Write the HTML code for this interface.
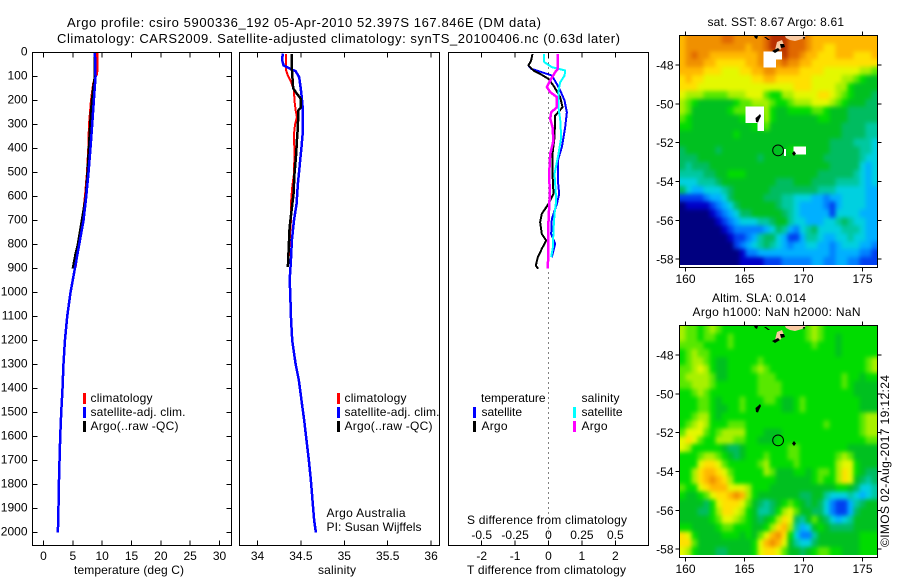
<!DOCTYPE html>
<html lang="en">
<head>
<meta charset="utf-8">
<title>Argo profile chart</title>
<style>
html,body{margin:0;padding:0;background:#fff;}
svg{display:block;font-family:"Liberation Sans",sans-serif;font-size:12px;fill:#000;}
</style>
</head>
<body>
<svg id="chart" xmlns="http://www.w3.org/2000/svg" width="900" height="580" viewBox="0 0 900 580">
  <text x="67" y="27" font-size="13" textLength="474">Argo profile: csiro 5900336_192 05-Apr-2010 52.397S 167.846E (DM data)</text>
  <text x="57" y="43" font-size="13" textLength="563">Climatology: CARS2009. Satellite-adjusted climatology: synTS_20100406.nc (0.63d later)</text>

  <g id="panel-temp"></g>
  <g id="panel-sal"></g>
  <g id="panel-diff"></g>
  <g id="map-sst"></g>
  <g id="map-sla"></g>

  <text x="74" y="574" textLength="110">temperature (deg C)</text>
  <text x="318" y="574" textLength="38">salinity</text>
  <text x="467" y="574" textLength="159">T difference from climatology</text>
  <text x="467" y="524" textLength="160">S difference from climatology</text>

  <g>
    <rect x="83" y="393" width="3" height="11" fill="#ff0000"/>
    <rect x="83" y="407" width="3" height="11" fill="#0000ff"/>
    <rect x="83" y="421" width="3" height="11" fill="#000000"/>
    <text x="90.5" y="402" textLength="62">climatology</text>
    <text x="90.5" y="416" textLength="95">satellite-adj. clim.</text>
    <text x="90.5" y="430" textLength="88">Argo(..raw -QC)</text>
  </g>
  <g>
    <rect x="337" y="393" width="3" height="11" fill="#ff0000"/>
    <rect x="337" y="407" width="3" height="11" fill="#0000ff"/>
    <rect x="337" y="421" width="3" height="11" fill="#000000"/>
    <text x="344.5" y="402" textLength="62">climatology</text>
    <text x="344.5" y="416" textLength="95">satellite-adj. clim.</text>
    <text x="344.5" y="430" textLength="88">Argo(..raw -QC)</text>
  </g>
  <text x="326.5" y="517" textLength="79">Argo Australia</text>
  <text x="326.5" y="531" textLength="95">PI: Susan Wijffels</text>
  <g>
    <text x="481" y="402" textLength="64.5">temperature</text>
    <text x="581.5" y="402" textLength="38">salinity</text>
    <rect x="473" y="407" width="3" height="11" fill="#0000ff"/>
    <rect x="473" y="421" width="3" height="11" fill="#000000"/>
    <rect x="573" y="407" width="3" height="11" fill="#00ffff"/>
    <rect x="573" y="421" width="3" height="11" fill="#ff00ff"/>
    <text x="481.5" y="416" textLength="40.5">satellite</text>
    <text x="481.5" y="430" textLength="26">Argo</text>
    <text x="581.5" y="416" textLength="41">satellite</text>
    <text x="581.5" y="430" textLength="26">Argo</text>
  </g>

  <text x="707.5" y="26" textLength="136.5">sat. SST: 8.67 Argo: 8.61</text>
  <text x="712" y="302" textLength="94">Altim. SLA: 0.014</text>
  <text x="692.5" y="316" textLength="168">Argo h1000: NaN h2000: NaN</text>
  <text transform="translate(889,547) rotate(-90)" x="0" y="0" textLength="172">©IMOS 02-Aug-2017 19:12:24</text>
</svg>
<script>
// ---------- Profile data (depth in m, values in data units) ----------
const depthTicks = [0,100,200,300,400,500,600,700,800,900,1000,1100,1200,1300,1400,1500,1600,1700,1800,1900,2000];
const tempTicks = [0,5,10,15,20,25,30];
const salTicks = [34,34.5,35,35.5,36];
const salTickLabels = ['34','34.5','35','35.5','36'];
const tDiffTicks = [-2,-1,0,1,2];
const sDiffTickLabels = ['-0.5','-0.25','0','0.25','0.5'];
const sDiffTicks = [-0.5,-0.25,0,0.25,0.5];
const lonTicks = [160,165,170,175];
const latTicks = [-48,-50,-52,-54,-56,-58];

const tempClimDepth = [0,50,90,100,130,200,300,400,500,600,700,800,890];
const tempClimValues = [9.2,9.2,9.1,8.87,8.5,8.13,7.79,7.67,7.45,7.1,6.65,6.0,5.46];
const tempArgoDepth = [0,75,100,150,200,250,300,400,500,600,700,800,840,900];
const tempArgoValues = [8.76,8.7,8.76,8.47,8.25,8.08,7.96,7.73,7.5,7.22,6.54,5.86,5.46,5.0];
const tempSatDepth = [0,100,200,300,400,500,600,700,800,900,1000,1100,1200,1300,1400,1500,1600,1700,1800,1900,2000];
const tempSatValues = [8.76,8.87,8.58,8.3,8.0,7.67,7.28,6.82,6.08,5.35,4.6,4.04,3.65,3.4,3.24,3.02,2.85,2.73,2.62,2.55,2.45];

const salClimDepth = [6,75,96,124,158,200,242,269,297,339,422,506,561,631,700,783,867];
const salClimValues = [34.33,34.33,34.35,34.388,34.42,34.426,34.44,34.454,34.434,34.42,34.426,34.42,34.40,34.385,34.385,34.37,34.357];
const salArgoDepth = [6,68,144,151,172,193,228,242,311,367,422,506,589,672,728,811,894];
const salArgoValues = [34.396,34.396,34.41,34.415,34.454,34.50,34.50,34.47,34.465,34.454,34.446,34.426,34.415,34.388,34.37,34.36,34.35];
const salSatDepth = [5,33,54,68,78,103,144,186,228,339,394,478,547,631,700,783,867,950,1000,1100,1200,1300,1367,1450,1533,1617,1700,1783,1867,1950,2000];
const salSatValues = [34.29,34.285,34.30,34.377,34.44,34.48,34.496,34.51,34.52,34.52,34.507,34.484,34.465,34.45,34.42,34.396,34.385,34.37,34.377,34.385,34.40,34.44,34.477,34.507,34.538,34.565,34.592,34.615,34.634,34.653,34.673];

const sDiffArgoDepth = [6,68,82,117,144,165,186,228,249,276,311,367,422,506,589,644,728,901];
const sDiffArgoValues = [0.07,0.07,0.05,0.013,-0.012,0.013,0.063,0.063,0.02,0.013,0.03,0.037,0.013,0.005,0.01,0.005,-0.002,-0.004];
const sDiffSatDepth = [6,40,61,75,96,124,158,228,283,353,422,506,617,672,742,811,853];
const sDiffSatValues = [-0.032,-0.032,0.025,0.125,0.12,0.088,0.075,0.075,0.088,0.095,0.075,0.045,0.058,0.045,0.037,0.033,0.02];
const tDiffSatDepth = [6,33,54,68,82,96,124,158,200,249,311,394,450,533,589,631,693,756,797,853];
const tDiffSatValues = [-0.48,-0.52,-0.6,-0.52,-0.2,0.1,0.22,0.35,0.48,0.55,0.5,0.4,0.28,0.28,0.32,0.25,0.1,0.08,0.2,0.1];
const tDiffArgoDepth = [6,33,54,75,89,110,138,186,228,263,353,422,506,589,631,672,707,756,783,818,853,888,901];
const tDiffArgoValues = [-0.48,-0.52,-0.6,-0.45,-0.25,0,0.15,0.35,0.42,0.2,0.18,0.12,0.12,0.15,0,-0.2,-0.25,-0.2,-0.07,-0.2,-0.32,-0.38,-0.31];

// ---------- Map data: colour-scale step per grid cell, null = no data ----------
const sstGrid = [
[14,15,15,15,15,15,15,16,16,15,15,15,15,15,16,17,17,17,16,16,16,15,14,14,14,14,14,14,14,14,14,14,14],
[14,15,15,15,15,15,15,15,15,15,15,14,15,15,16,17,17,17,16,16,16,15,14,14,13,13,14,14,14,14,14,14,14],
[14,15,16,15,15,14,14,14,14,14,14,14,14,15,null,null,null,17,16,16,15,14,14,13,13,13,14,14,14,13,13,13,14],
[14,15,15,15,14,14,13,13,13,13,13,14,14,15,null,null,15,16,15,15,14,14,13,13,13,13,13,13,13,13,13,13,13],
[14,14,14,14,13,13,13,12,12,12,13,13,14,14,15,15,14,14,14,14,13,13,13,13,12,12,12,12,12,12,11,11,10],
[13,14,13,13,12,12,12,12,12,12,12,12,13,13,14,14,13,13,13,13,13,13,12,12,12,12,12,11,11,10,9,8,8],
[13,13,13,12,12,12,12,12,12,12,12,12,12,12,12,12,12,12,12,13,13,13,12,12,12,12,11,11,9,8,8,8,8],
[12,11,11,11,10,10,10,10,11,11,11,12,12,12,10,9,9,11,11,12,12,12,12,13,13,12,11,10,9,8,8,8,7],
[11,10,9,8,8,8,8,8,8,9,10,10,11,11,11,10,9,9,10,11,11,11,12,12,12,11,10,9,8,8,8,7,7],
[11,10,8,8,8,8,8,8,9,10,10,null,null,null,11,9,8,8,9,9,9,9,10,10,9,8,8,8,7,7,7,7,7],
[10,9,8,8,8,8,8,8,8,8,9,null,null,null,11,9,8,8,8,8,8,8,8,9,9,8,8,8,7,7,7,7,7],
[9,9,8,8,8,8,8,8,8,8,8,8,9,null,10,8,8,8,8,8,8,8,8,8,8,8,8,7,7,7,7,6,6],
[8,8,8,8,8,8,8,8,8,9,8,8,8,8,8,8,8,8,8,8,8,8,8,8,8,8,8,7,7,7,7,6,6],
[8,8,8,8,8,8,8,8,8,8,8,8,8,8,8,8,8,8,8,8,8,8,8,8,8,7,7,7,7,6,6,6,5],
[7,8,8,8,8,8,7,8,8,8,8,8,8,8,8,8,8,8,9,null,null,8,8,8,8,7,7,7,7,7,6,6,5],
[7,7,7,8,8,8,8,8,8,8,8,8,8,7,8,8,8,8,8,8,8,8,8,8,7,7,7,7,7,7,6,5,5],
[7,6,7,7,7,8,8,8,8,8,8,8,8,8,8,8,8,8,8,8,8,8,8,8,8,7,7,7,7,7,5,4,5],
[6,6,6,6,7,7,8,8,9,9,9,8,8,8,8,8,8,8,8,8,8,8,8,7,7,7,7,7,7,6,5,4,5],
[5,5,5,6,6,6,7,8,8,8,8,8,8,8,8,8,7,7,7,8,8,8,7,7,7,7,6,6,6,6,5,4,5],
[7,5,4,4,5,5,5,6,7,8,8,8,8,8,8,7,7,7,7,7,7,7,7,6,6,6,5,5,5,5,5,4,4],
[2,2,2,2,3,4,4,5,7,8,8,8,8,8,7,7,7,6,6,5,5,5,4,4,3,4,4,5,5,5,5,4,4],
[0,1,1,1,1,2,3,4,5,7,8,8,8,8,8,8,7,6,6,5,4,4,4,4,3,2,4,5,5,5,5,4,4],
[0,0,0,0,0,1,2,3,4,5,7,7,8,8,8,8,8,7,6,5,4,4,4,4,4,2,5,5,5,5,4,4,4],
[0,0,0,0,0,0,1,2,3,4,5,5,5,6,6,7,8,8,6,5,5,4,4,4,5,5,6,7,6,5,5,4,4],
[0,0,0,0,0,0,0,1,2,3,3,3,3,3,4,5,7,6,4,3,5,6,7,5,5,5,5,6,6,6,5,4,4],
[0,0,0,0,0,0,0,0,1,2,2,3,4,6,7,7,5,4,2,2,4,6,6,5,4,4,5,5,6,5,5,4,4],
[0,0,0,0,0,0,0,0,0,2,3,4,5,6,7,6,5,4,3,4,4,5,5,4,4,3,4,5,5,5,4,4,3],
[0,0,0,0,0,0,0,0,0,0,1,3,3,4,4,4,4,4,4,4,4,4,4,4,4,3,4,4,4,4,3,3,2],
[0,0,0,0,0,0,0,0,0,0,1,1,1,1,2,2,2,3,3,3,3,3,4,4,3,3,4,4,3,3,2,2,2]
];
const slaGrid = [
[11,10,10,9,10,11,10,9,9,9,9,9,9,9,9,9,9,9,9,9,9,10,11,10,9,9,9,9,9,9,9,9,9],
[11,10,10,9,10,10,9,9,10,9,9,9,9,9,9,9,9,9,9,9,9,10,11,10,9,9,8,9,9,9,9,9,9],
[10,10,10,10,9,9,9,9,10,9,9,9,9,9,9,9,9,9,9,9,9,9,10,9,9,9,8,9,9,9,9,9,9],
[9,10,11,10,10,9,9,9,9,9,9,9,9,9,9,9,9,9,9,9,9,9,9,9,9,9,8,9,9,9,9,9,9],
[9,10,11,11,10,9,8,8,9,9,9,9,9,10,9,9,9,9,9,9,9,9,9,9,9,9,9,9,9,9,9,10,11],
[10,10,11,12,11,9,8,8,9,9,9,9,10,11,10,9,9,9,9,9,9,9,9,9,9,9,9,9,9,9,9,10,11],
[10,11,11,11,11,10,8,8,9,9,9,9,9,10,10,10,9,9,9,9,9,9,9,9,9,9,9,10,9,9,8,9,9],
[10,10,11,11,11,10,9,9,9,9,9,9,9,10,10,10,10,9,9,9,9,9,9,9,9,9,9,10,9,8,8,8,8],
[9,9,10,11,10,9,9,9,9,9,9,9,9,10,10,10,10,9,9,9,9,9,9,9,9,9,9,9,9,8,8,8,8],
[9,9,9,10,10,9,8,9,9,9,10,9,9,9,10,10,9,8,8,9,10,9,9,9,9,9,9,9,9,9,8,8,8],
[9,9,9,10,10,9,8,8,9,9,10,9,9,9,9,9,9,8,8,9,10,9,9,9,9,9,9,9,9,9,8,8,8],
[9,9,10,11,11,9,8,9,9,9,9,9,9,9,9,9,9,9,9,9,9,9,9,9,9,9,9,9,9,9,10,11,11],
[9,10,11,12,11,9,9,9,10,10,10,9,9,9,9,9,9,9,9,9,9,9,9,9,10,9,9,9,9,9,10,11,11],
[10,12,12,12,10,9,10,11,11,11,11,9,9,9,8,8,8,9,9,9,9,9,9,9,9,9,9,9,9,9,10,11,11],
[12,13,12,10,9,9,11,11,11,10,10,9,9,8,8,8,9,9,9,9,9,9,9,9,9,9,9,9,9,9,9,10,10],
[12,11,9,9,9,9,9,8,7,7,8,9,9,9,9,9,9,9,10,10,9,9,9,9,9,9,9,9,8,8,8,8,8],
[9,9,9,10,11,11,10,9,8,7,8,9,9,9,10,9,9,9,10,10,9,9,9,9,9,9,10,11,10,8,8,8,8],
[9,9,9,12,13,13,12,10,9,9,9,9,9,10,11,9,9,9,9,10,9,9,9,9,9,9,11,12,12,9,8,8,8],
[9,9,11,13,14,14,13,12,10,9,9,9,9,9,11,10,8,8,8,9,9,8,9,10,10,9,11,13,12,9,8,7,7],
[9,9,11,13,14,15,14,13,11,9,9,9,9,9,9,9,8,8,8,8,8,8,9,10,9,9,11,13,12,8,7,6,7],
[10,9,9,12,13,14,14,14,12,12,12,11,9,9,9,8,8,8,8,8,8,8,8,8,8,8,9,9,8,7,5,5,6],
[9,8,8,9,10,12,13,13,14,15,14,11,9,8,8,8,8,8,8,8,7,7,8,8,6,5,5,5,6,5,4,5,6],
[8,8,8,8,7,9,12,13,13,13,12,10,8,7,6,7,8,9,10,9,8,7,8,7,5,3,2,2,4,6,7,8,8],
[8,8,8,7,7,9,11,13,13,12,11,9,8,6,6,7,9,11,12,10,8,8,7,7,5,3,2,2,4,7,8,8,8],
[8,8,8,8,8,9,10,12,12,11,10,9,8,7,8,9,11,13,12,7,6,8,10,8,7,5,4,5,6,8,8,8,8],
[9,9,8,8,8,8,9,10,10,9,9,9,8,8,9,11,13,14,11,6,4,5,8,9,8,7,7,7,7,8,8,8,8],
[13,12,9,8,8,8,8,9,9,9,8,9,8,10,12,14,15,13,9,5,3,3,6,8,8,8,8,8,8,8,9,9,9],
[13,13,10,8,8,8,8,8,8,8,8,8,9,12,14,15,14,12,8,6,5,5,7,8,8,8,8,8,8,8,9,9,9],
[12,11,9,8,8,8,7,7,8,8,8,8,9,12,13,13,12,10,8,8,7,8,9,10,10,9,9,8,8,8,9,9,9]
];

// ---------- Layout and scales ----------
const NS = 'http://www.w3.org/2000/svg';
const TOP = 52.5, BOTTOM = 545.5;
const yDepth = d => 52.5 + 0.24 * d;
const xTemp = t => 43.5 + 5.867 * t;
const xSal = s => 257.5 + 86.8 * (s - 34);
const xTDiff = t => 548.5 + 33.4 * t;
const xSDiff = s => 548.5 + 133.6 * s;
const xLon = lon => 685.5 + 11.8 * (lon - 160);
const yLat = (lat, y48) => y48 + 19.42 * (-48 - lat);

const palette = ['#000080','#0000c8','#0040f0','#0080ff','#00b0ff','#00d0e0','#00c8a0','#00bc60','#00c020','#00dc00','#58e800','#a8f000','#e4f800','#ffe000','#ffb800','#f09000','#e06800','#b83000'];

function make(parent, tag, attrs, text) {
  const el = document.createElementNS(NS, tag);
  for (const k in attrs) el.setAttribute(k, attrs[k]);
  if (text !== undefined) el.textContent = text;
  parent.appendChild(el);
  return el;
}

function tick(parent, x1, y1, x2, y2) {
  const el = make(parent, 'line', {x1, y1, x2, y2, stroke: '#000', 'stroke-width': 1, 'shape-rendering': 'crispEdges'});
  
  
}

function tickLabel(parent, x, y, anchor, label) {
  const el = make(parent, 'text', {x, y, 'text-anchor': anchor}, label);
  
  
}

function frame(parent, x1, y1, x2, y2) {
  const el = make(parent, 'rect', {x: x1, y: y1, width: x2 - x1, height: y2 - y1, fill: 'none', stroke: '#000', 'stroke-width': 1, 'shape-rendering': 'crispEdges'});
  
  
}

function series(parent, name, depths, values, xScale, color, width) {
  const pts = depths.map((d, i) => xScale(values[i]) + ',' + yDepth(d)).join(' ');
  const el = make(parent, 'polyline', {points: pts, fill: 'none', stroke: color, 'stroke-width': width, 'shape-rendering': 'crispEdges', 'stroke-linejoin': 'round'});
  
  
}

// ---------- Temperature panel ----------
const pT = document.getElementById('panel-temp');
series(pT, 'temperature-climatology-line', tempClimDepth, tempClimValues, xTemp, '#ff0000', 2.5);
series(pT, 'temperature-argo-line', tempArgoDepth, tempArgoValues, xTemp, '#000000', 2.5);
series(pT, 'temperature-satellite-line', tempSatDepth, tempSatValues, xTemp, '#0000ff', 2.5);
frame(pT, 32.5, TOP, 231.5, BOTTOM);
depthTicks.forEach(d => {
  tick(pT, 32.5, yDepth(d), 37.5, yDepth(d));
  tick(pT, 226.5, yDepth(d), 231.5, yDepth(d));
  tickLabel(pT, 27.5, yDepth(d) + 3, 'end', String(d));
});
tempTicks.forEach(t => {
  tick(pT, xTemp(t), TOP, xTemp(t), TOP + 5);
  tick(pT, xTemp(t), BOTTOM - 5, xTemp(t), BOTTOM);
  tickLabel(pT, xTemp(t), 560, 'middle', String(t));
});

// ---------- Salinity panel ----------
const pS = document.getElementById('panel-sal');
series(pS, 'salinity-climatology-line', salClimDepth, salClimValues, xSal, '#ff0000', 2);
series(pS, 'salinity-satellite-line', salSatDepth, salSatValues, xSal, '#0000ff', 2.5);
series(pS, 'salinity-argo-line', salArgoDepth, salArgoValues, xSal, '#000000', 2.5);
frame(pS, 239.5, TOP, 439.5, BOTTOM);
salTicks.forEach((s, i) => {
  tick(pS, xSal(s), TOP, xSal(s), TOP + 5);
  tick(pS, xSal(s), BOTTOM - 5, xSal(s), BOTTOM);
  tickLabel(pS, xSal(s), 560, 'middle', salTickLabels[i]);
});

// ---------- Difference panel ----------
const pD = document.getElementById('panel-diff');
const zeroLine = make(pD, 'line', {x1: xTDiff(0), y1: TOP, x2: xTDiff(0), y2: BOTTOM, stroke: '#000', 'stroke-width': 1, 'stroke-dasharray': '1 4', 'shape-rendering': 'crispEdges'});


series(pD, 't-difference-satellite-line', tDiffSatDepth, tDiffSatValues, xTDiff, '#0000ff', 2);
series(pD, 't-difference-argo-line', tDiffArgoDepth, tDiffArgoValues, xTDiff, '#000000', 2);
series(pD, 's-difference-satellite-line', sDiffSatDepth, sDiffSatValues, xSDiff, '#00ffff', 2);
series(pD, 's-difference-argo-line', sDiffArgoDepth, sDiffArgoValues, xSDiff, '#ff00ff', 2.5);
frame(pD, 448.5, TOP, 648.5, BOTTOM);
tDiffTicks.forEach(t => {
  tick(pD, xTDiff(t), TOP, xTDiff(t), TOP + 5);
  tick(pD, xTDiff(t), BOTTOM - 5, xTDiff(t), BOTTOM);
  tickLabel(pD, xTDiff(t), 560, 'middle', String(t));
});
sDiffTicks.forEach((s, i) => {
  tickLabel(pD, xSDiff(s), 539, 'middle', sDiffTickLabels[i]);
});

// ---------- Maps ----------
const chart = document.getElementById('chart');
const defs = make(chart, 'defs', {});

function drawMap(group, grid, top, bottom, dataBottom, y48) {
  const left = 679.5, right = 877.5, pad = 10;
  const rows = grid.length, cols = grid[0].length;
  const cw = (right - left) / cols, ch = (dataBottom - top) / rows;

  const clip = make(defs, 'clipPath', {id: group.id + '-clip'});
  make(clip, 'rect', {x: left, y: top, width: right - left, height: dataBottom - top});
  const blur = make(defs, 'filter', {id: group.id + '-smooth', filterUnits: 'userSpaceOnUse', x: left - pad, y: top - pad, width: right - left + 2 * pad, height: dataBottom - top + 2 * pad, 'color-interpolation-filters': 'sRGB'});
  make(blur, 'feGaussianBlur', {stdDeviation: 2.2});

  const clipped = make(group, 'g', {'clip-path': 'url(#' + group.id + '-clip)'});
  
  
  const field = make(clipped, 'g', {filter: 'url(#' + group.id + '-smooth)'});
  
  

  grid.forEach((row, r) => {
    let last = row.find(v => v !== null);
    row.forEach((v, c) => {
      const level = v === null ? last : v;
      last = level;
      const x0 = c === 0 ? left - pad : left + c * cw;
      const x1 = c === cols - 1 ? right + pad : left + (c + 1) * cw + 0.5;
      const y0 = r === 0 ? top - pad : top + r * ch;
      const y1 = r === rows - 1 ? dataBottom + pad : top + (r + 1) * ch + 0.5;
      const cell = make(field, 'rect', {x: x0, y: y0, width: x1 - x0, height: y1 - y0, fill: palette[level], 'shape-rendering': 'crispEdges'});
      
      
    });
  });
  grid.forEach((row, r) => {
    row.forEach((v, c) => {
      if (v !== null) return;
      const gap = make(clipped, 'rect', {x: left + c * cw, y: top + r * ch, width: cw + 0.5, height: ch + 0.5, fill: '#fff', 'shape-rendering': 'crispEdges'});
      
      
    });
  });

  const land = make(group, 'g', {transform: 'translate(0,' + (y48 - 65) + ')'});
  
  
  const polys = [
    ['#f8c8a0', '785,36 806,36 802,39 795,41 790,40 786,38'],
    ['#f8c8a0', '775,50 777,42 782,40 784,45 780,50'],
    ['#000', '772,51 778,48 780,50 775,53'],
    ['#000', '780,44 784,44 785,47 781,48'],
    ['#000', '754,36 758,36 757,39 755,38'],
    ['#000', '764,37 766,37 770,40 768,40'],
    ['#000', '803,37 805,37 804,40'],
    ['#000', '756,122 755.5,118 758,116 760,114 761,116 759,120 758,122.5'],
    ['#000', '794,151 796,153.5 794,156 792,153.5']
  ];
  polys.forEach(p => {
    const poly = make(land, 'polygon', {points: p[1], fill: p[0]});
    
    
  });
  const marker = make(group, 'circle', {cx: xLon(167.846), cy: yLat(-52.397, y48), r: 5.4, fill: 'none', stroke: '#000', 'stroke-width': 1});
  
  
  frame(group, left, top, right, bottom);
  lonTicks.forEach(lon => {
    tick(group, xLon(lon), top - 4, xLon(lon), top);
    tick(group, xLon(lon), bottom, xLon(lon), bottom + 4);
    tickLabel(group, xLon(lon), bottom + 15.5, 'middle', String(lon));
  });
  latTicks.forEach(lat => {
    tick(group, left - 4, yLat(lat, y48), left, yLat(lat, y48));
    tick(group, right, yLat(lat, y48), right + 4, yLat(lat, y48));
    tickLabel(group, 673.5, yLat(lat, y48) + 4.5, 'end', String(lat));
  });
}
drawMap(document.getElementById('map-sst'), sstGrid, 35.5, 267.5, 265, 65);
drawMap(document.getElementById('map-sla'), slaGrid, 325.5, 557.5, 555, 355);
const sstGap = make(document.getElementById('map-sst'), 'rect', {x: 784, y: 149, width: 2, height: 7, fill: '#fff'});


</script>
</body>
</html>
